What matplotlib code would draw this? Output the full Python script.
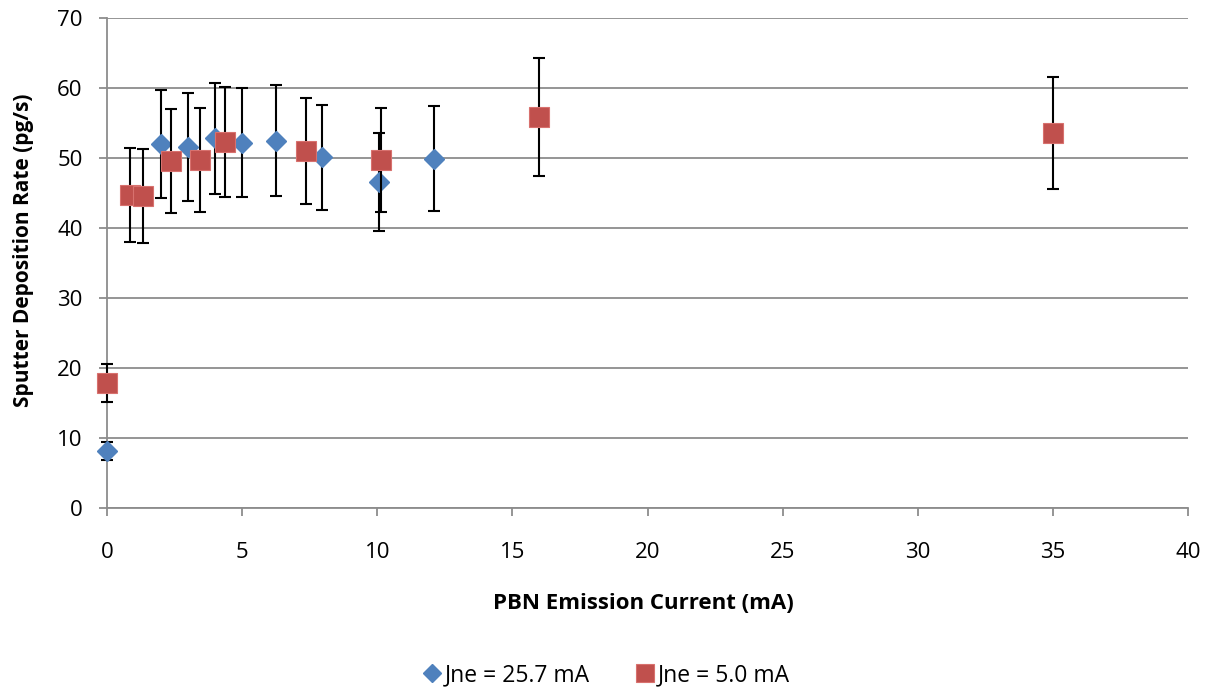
#!/usr/bin/env python3
"""Sputter deposition rate vs PBN emission current."""

import matplotlib
matplotlib.use("Agg")
import matplotlib.pyplot as plt

# Jne = 25.7 mA series
blue_x = [0.0, 2.0, 3.0, 4.0, 5.0, 6.25, 7.95, 10.05, 12.1]
blue_y = [8.1, 52.0, 51.6, 52.8, 52.2, 52.5, 50.1, 46.6, 49.9]
blue_err = [1.3, 7.7, 7.7, 7.9, 7.8, 7.9, 7.5, 7.0, 7.5]

# Jne = 5.0 mA series
red_x = [0.0, 0.85, 1.35, 2.35, 3.45, 4.35, 7.35, 10.15, 16.0, 35.0]
red_y = [17.9, 44.7, 44.6, 49.6, 49.7, 52.3, 51.0, 49.7, 55.9, 53.6]
red_err = [2.7, 6.7, 6.7, 7.4, 7.4, 7.8, 7.6, 7.4, 8.4, 8.0]

labels = ["Jne = 25.7 mA", "Jne = 5.0 mA"]
x_ticks = [0, 5, 10, 15, 20, 25, 30, 35, 40]
y_ticks = [0, 10, 20, 30, 40, 50, 60, 70]

BLUE = "#4F81BD"
RED = "#C0504D"
GRID = "#8C8C8C"


def main():
    plt.rcParams["font.family"] = ["Open Sans", "DejaVu Sans"]

    fig = plt.figure(figsize=(12.12, 6.88), dpi=100)
    ax = fig.add_axes([107 / 1212, 180 / 688, 1081 / 1212, 490 / 688])

    # error bars first, then markers on top (red series above blue)
    ax.errorbar(blue_x, blue_y, yerr=blue_err, fmt="none", ecolor="black",
                elinewidth=1.5, capsize=4.5, capthick=1.5, zorder=3,
                clip_on=False)
    ax.plot(blue_x, blue_y, linestyle="none", marker="D", markersize=10,
            color=BLUE, markeredgecolor=BLUE, label=labels[0], zorder=4,
            clip_on=False)
    ax.errorbar(red_x, red_y, yerr=red_err, fmt="none", ecolor="black",
                elinewidth=1.5, capsize=4.5, capthick=1.5, zorder=5,
                clip_on=False)
    ax.plot(red_x, red_y, linestyle="none", marker="s", markersize=14,
            color=RED, markeredgecolor="#D8716E", markeredgewidth=0.8,
            label=labels[1], zorder=6, clip_on=False)

    ax.set_xlim(0, 40)
    ax.set_ylim(0, 70)
    ax.set_xticks(x_ticks)
    ax.set_yticks(y_ticks)
    ax.yaxis.grid(True, color=GRID, linewidth=1.3)
    ax.set_axisbelow(True)

    for side in ("top", "right"):
        ax.spines[side].set_visible(False)
    for side in ("left", "bottom"):
        ax.spines[side].set_color(GRID)
        ax.spines[side].set_linewidth(1.3)
    ax.tick_params(axis="both", direction="out", length=5.5, width=1.3,
                   color=GRID, labelsize=16)
    ax.tick_params(axis="y", pad=12)
    ax.tick_params(axis="x", pad=19)

    ax.set_xlabel("PBN Emission Current (mA)", fontsize=16, fontweight="bold",
                  va="center")
    ax.xaxis.set_label_coords(0.496, -0.194)
    ax.set_ylabel("Sputter Deposition Rate (pg/s)", fontsize=15,
                  fontweight="bold", va="center")
    ax.yaxis.set_label_coords(-0.0777, 0.5265)

    fig.legend(loc="center", bbox_to_anchor=(605 / 1212, 1 - 675 / 688),
               ncol=2, frameon=False, fontsize=16.5, handletextpad=0.05,
               columnspacing=1.9, handlelength=1.0, markerscale=0.9)

    plt.savefig("out.png", dpi=100)


if __name__ == "__main__":
    main()
